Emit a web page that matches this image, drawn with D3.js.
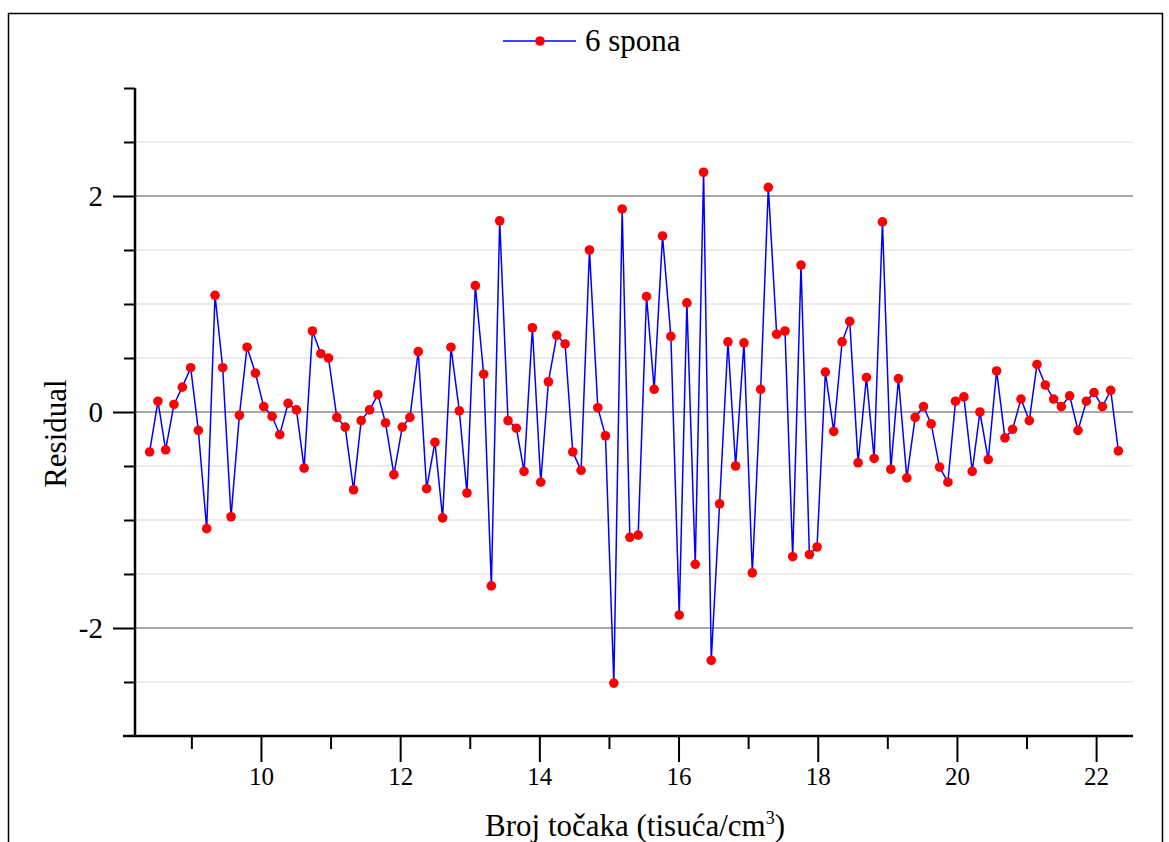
<!DOCTYPE html>
<html>
<head>
<meta charset="utf-8">
<script src="https://cdn.jsdelivr.net/npm/d3@7"></script>
<style>
  html, body { margin: 0; padding: 0; background: #fff; }
  svg { display: block; }
  text { font-family: "Liberation Serif", "Times New Roman", serif; fill: #000; }
</style>
</head>
<body>
<svg id="chart" width="1169" height="842"></svg>
<script>
// ---- data ----
const seriesName = "6 spona";
const xValues = [
  8.40, 8.52, 8.63, 8.75, 8.87, 8.99, 9.10, 9.22, 9.34, 9.45,
  9.57, 9.69, 9.80, 9.92, 10.04, 10.16, 10.27, 10.39, 10.51, 10.62,
  10.74, 10.86, 10.97, 11.09, 11.21, 11.33, 11.44, 11.56, 11.68, 11.79,
  11.91, 12.03, 12.14, 12.26, 12.38, 12.50, 12.61, 12.73, 12.85, 12.96,
  13.08, 13.20, 13.31, 13.43, 13.55, 13.67, 13.78, 13.90, 14.02, 14.13,
  14.25, 14.37, 14.48, 14.60, 14.72, 14.84, 14.95, 15.07, 15.19, 15.30,
  15.42, 15.54, 15.65, 15.77, 15.89, 16.01, 16.12, 16.24, 16.36, 16.47,
  16.59, 16.71, 16.82, 16.94, 17.06, 17.18, 17.29, 17.41, 17.53, 17.64,
  17.76, 17.88, 17.99, 18.11, 18.23, 18.35, 18.46, 18.58, 18.70, 18.81,
  18.93, 19.05, 19.16, 19.28, 19.40, 19.52, 19.63, 19.75, 19.87, 19.98,
  20.10, 20.22, 20.33, 20.45, 20.57, 20.69, 20.80, 20.92, 21.04, 21.15,
  21.27, 21.39, 21.50, 21.62, 21.74, 21.86, 21.97, 22.09, 22.21, 22.32
];
const residuals = [
  -0.37, 0.10, -0.35, 0.07, 0.23, 0.41, -0.17, -1.08, 1.08, 0.41,
  -0.97, -0.03, 0.60, 0.36, 0.05, -0.04, -0.21, 0.08, 0.02, -0.52,
  0.75, 0.54, 0.50, -0.05, -0.14, -0.72, -0.08, 0.02, 0.16, -0.10,
  -0.58, -0.14, -0.05, 0.56, -0.71, -0.28, -0.98, 0.60, 0.01, -0.75,
  1.17, 0.35, -1.61, 1.77, -0.08, -0.15, -0.55, 0.78, -0.65, 0.28,
  0.71, 0.63, -0.37, -0.54, 1.50, 0.04, -0.22, -2.51, 1.88, -1.16,
  -1.14, 1.07, 0.21, 1.63, 0.70, -1.88, 1.01, -1.41, 2.22, -2.30,
  -0.85, 0.65, -0.50, 0.64, -1.49, 0.21, 2.08, 0.72, 0.75, -1.34,
  1.36, -1.32, -1.25, 0.37, -0.18, 0.65, 0.84, -0.47, 0.32, -0.43,
  1.76, -0.53, 0.31, -0.61, -0.05, 0.05, -0.11, -0.51, -0.65, 0.10,
  0.14, -0.55, 0.00, -0.44, 0.38, -0.24, -0.16, 0.12, -0.08, 0.44,
  0.25, 0.12, 0.05, 0.15, -0.17, 0.10, 0.18, 0.05, 0.20, -0.36
];
const xMajorTicks = [10, 12, 14, 16, 18, 20, 22];
const xMinorTicks = [9, 11, 13, 15, 17, 19, 21];
const yMajorTicks = [-2, 0, 2];
const yMinorTicks = [-2.5, -1.5, -1, -0.5, 0.5, 1, 1.5, 2.5, 3];
const xTitle = "Broj točaka (tisuća/cm";
const xTitleSup = "3";
const yTitle = "Residual";

// ---- layout ----
const svg = d3.select("#chart");
const plot = { left: 135, right: 1133, top: 88, bottom: 736 };

const x = d3.scaleLinear().domain([8.19, 22.53]).range([plot.left, plot.right]);
const y = d3.scaleLinear().domain([-3, 3]).range([plot.bottom, plot.top]);

// outer frame
svg.append("rect")
  .attr("x", 8.5).attr("y", 13.5).attr("width", 1154).attr("height", 840)
  .attr("fill", "none").attr("stroke", "#000").attr("stroke-width", 1.5);

// gridlines
const gridG = svg.append("g");
gridG.selectAll("line.minor").data(yMinorTicks.filter(v => v < 3)).join("line")
  .attr("class", "minor")
  .attr("x1", plot.left).attr("x2", plot.right)
  .attr("y1", d => y(d)).attr("y2", d => y(d))
  .attr("stroke", "#e6e6e6").attr("stroke-width", 1.5);
gridG.selectAll("line.major").data(yMajorTicks).join("line")
  .attr("class", "major")
  .attr("x1", plot.left).attr("x2", plot.right)
  .attr("y1", d => y(d)).attr("y2", d => y(d))
  .attr("stroke", "#8c8c8c").attr("stroke-width", 1.5);

// axes
const fmt = d => String(d);
const xAxisMajor = d3.axisBottom(x).tickValues(xMajorTicks).tickSize(26).tickPadding(5).tickFormat(fmt);
const xAxisMinor = d3.axisBottom(x).tickValues(xMinorTicks).tickSize(13).tickFormat("");
const yAxisMajor = d3.axisLeft(y).tickValues(yMajorTicks).tickSize(22).tickPadding(10).tickFormat(fmt);
const yAxisMinor = d3.axisLeft(y).tickValues(yMinorTicks).tickSize(11).tickFormat("");

function styleAxis(g) {
  g.select(".domain").remove();
  g.selectAll(".tick line").attr("stroke", "#000").attr("stroke-width", 2);
}

const gx1 = svg.append("g").attr("transform", `translate(0,${plot.bottom})`).call(xAxisMajor).call(styleAxis);
gx1.selectAll(".tick text").attr("font-size", 25).attr("font-family", "Liberation Serif");
svg.append("g").attr("transform", `translate(0,${plot.bottom})`).call(xAxisMinor).call(styleAxis);

const gy1 = svg.append("g").attr("transform", `translate(${plot.left},0)`).call(yAxisMajor).call(styleAxis);
gy1.selectAll(".tick text").attr("font-size", 29).attr("font-family", "Liberation Serif");
svg.append("g").attr("transform", `translate(${plot.left},0)`).call(yAxisMinor).call(styleAxis);

// axis lines
svg.append("line").attr("x1", plot.left).attr("x2", plot.left)
  .attr("y1", plot.top).attr("y2", plot.bottom)
  .attr("stroke", "#000").attr("stroke-width", 2.5);
svg.append("line").attr("x1", 123).attr("x2", plot.right)
  .attr("y1", plot.bottom).attr("y2", plot.bottom)
  .attr("stroke", "#000").attr("stroke-width", 2.5);

// data line + markers
const pts = xValues.map((v, i) => [v, residuals[i]]);
svg.append("path")
  .datum(pts)
  .attr("fill", "none").attr("stroke", "#0000ff").attr("stroke-width", 1.5)
  .attr("d", d3.line().x(d => x(d[0])).y(d => y(d[1])));
svg.append("g").selectAll("circle").data(pts).join("circle")
  .attr("cx", d => x(d[0])).attr("cy", d => y(d[1])).attr("r", 4.8)
  .attr("fill", "#ff0000");

// axis titles
const xt = svg.append("text")
  .attr("x", 635).attr("y", 836).attr("text-anchor", "middle")
  .attr("font-size", 31);
xt.append("tspan").text(xTitle);
xt.append("tspan").attr("dy", -12).attr("font-size", 18).text(xTitleSup);
xt.append("tspan").attr("dy", 12).text(")");

svg.append("text")
  .attr("transform", `translate(66,${y(-0.2)}) rotate(-90)`)
  .attr("text-anchor", "middle").attr("font-size", 31)
  .text(yTitle);

// legend
const lg = svg.append("g");
lg.append("line").attr("x1", 503).attr("x2", 576).attr("y1", 41).attr("y2", 41)
  .attr("stroke", "#0000ff").attr("stroke-width", 1.5);
lg.append("circle").attr("cx", 540).attr("cy", 41).attr("r", 4.8).attr("fill", "#ff0000");
lg.append("text").attr("x", 585).attr("y", 51).attr("font-size", 31).text(seriesName);
</script>
</body>
</html>
